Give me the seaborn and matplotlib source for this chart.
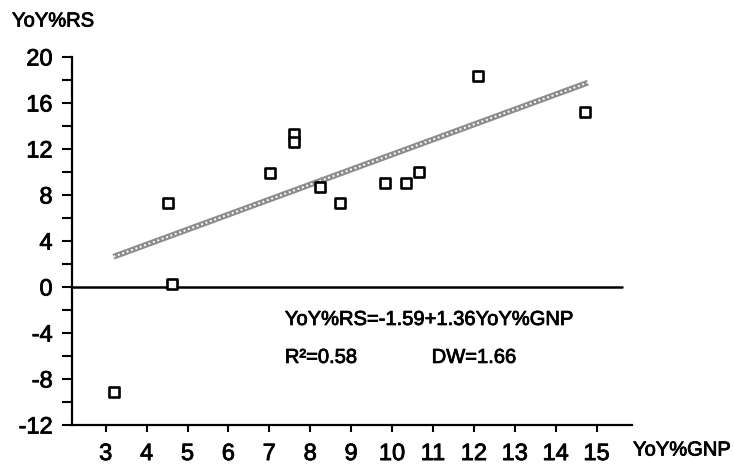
import matplotlib

matplotlib.use("Agg")

import matplotlib.pyplot as plt
import matplotlib.patheffects as pe
import seaborn as sns
import pandas as pd

# style first, then the font list (set_style resets font.family)
sns.set_style("white")
plt.rcParams["font.family"] = ["Liberation Sans", "DejaVu Sans"]
plt.rcParams["text.color"] = "black"
plt.rcParams["xtick.color"] = "black"
plt.rcParams["ytick.color"] = "black"

# =========================
# data
# =========================
gnp = [3.21, 4.52, 4.61, 7.02, 7.61, 7.61, 8.24, 8.73, 9.83, 10.34, 10.65, 12.11, 14.72]
rs = [-9.1, 7.28, 0.23, 9.94, 13.28, 12.64, 8.72, 7.28, 9.02, 9.07, 9.97, 18.32, 15.25]

# fitted line as drawn in the chart (end points)
fit_gnp = [3.19, 14.79]
fit_rs = [2.63, 17.77]

x_ticks = [3, 4, 5, 6, 7, 8, 9, 10, 11, 12, 13, 14, 15]
y_ticks = [-12, -10, -8, -6, -4, -2, 0, 2, 4, 6, 8, 10, 12, 14, 16, 18, 20]
y_labels = ["-12", "", "-8", "", "-4", "", "0", "", "4", "", "8", "", "12", "", "16", "", "20"]

y_title = "YoY%RS"
x_title = "YoY%GNP"
equation_text = "YoY%RS=-1.59+1.36YoY%GNP"
r2_text = "R²=0.58"
dw_text = "DW=1.66"

df = pd.DataFrame({"gnp": gnp, "rs": rs})
fit = pd.DataFrame({"gnp": fit_gnp, "rs": fit_rs})

# slightly heavier glyphs, like the scanned print
ink = [pe.withStroke(linewidth=0.6, foreground="black")]

fig = plt.figure(figsize=(7.34, 4.66), dpi=100)
ax = fig.add_axes([0.0981, 0.088, 0.7625, 0.7897])

# hatched grey regression band
sns.lineplot(data=fit, x="gnp", y="rs", ax=ax, color="#8c8c8c", linewidth=4.2,
             sort=False, estimator=None, solid_capstyle="butt")
ax.plot(fit_gnp, fit_rs, color="white", linewidth=1.4, linestyle=(0, (1, 1.4)),
        solid_capstyle="butt")

sns.scatterplot(data=df, x="gnp", y="rs", ax=ax, marker="s", s=44,
                facecolor="white", edgecolor="black", linewidth=1.9, zorder=5)

ax.axhline(0, xmin=0, xmax=0.982, color="black", linewidth=1.8, zorder=1)

ax.set_xlim(2.176, 15.86)
ax.set_ylim(-12, 20)
ax.set_xticks(x_ticks)
ax.set_yticks(y_ticks)
ax.set_yticklabels(y_labels)
ax.set_xlabel("")
ax.set_ylabel("")

for side in ["top", "right"]:
    ax.spines[side].set_visible(False)
for side in ["left", "bottom"]:
    ax.spines[side].set_linewidth(1.6)
    ax.spines[side].set_color("black")

ax.tick_params(axis="y", direction="out", length=7, width=1.5, pad=7,
               labelsize=17, left=True)
ax.tick_params(axis="x", direction="out", length=5, width=1.5, pad=8,
               labelsize=17, bottom=True)
for lab in ax.get_xticklabels() + ax.get_yticklabels():
    lab.set_path_effects(ink)

ax.text(7.38, -3.3, equation_text, fontsize=14.5, ha="left", va="baseline",
        path_effects=ink)
ax.text(7.38, -6.6, r2_text, fontsize=14.5, ha="left", va="baseline",
        path_effects=ink)
ax.text(10.97, -6.6, dw_text, fontsize=14.5, ha="left", va="baseline",
        path_effects=ink)

fig.text(12 / 734, 1 - 21 / 466, y_title, fontsize=14.5, ha="left", va="center",
         path_effects=ink)
fig.text(633 / 734, 1 - 450 / 466, x_title, fontsize=14.5, ha="left", va="center",
         path_effects=ink)

fig.savefig("out.png", dpi=100)
plt.close(fig)
